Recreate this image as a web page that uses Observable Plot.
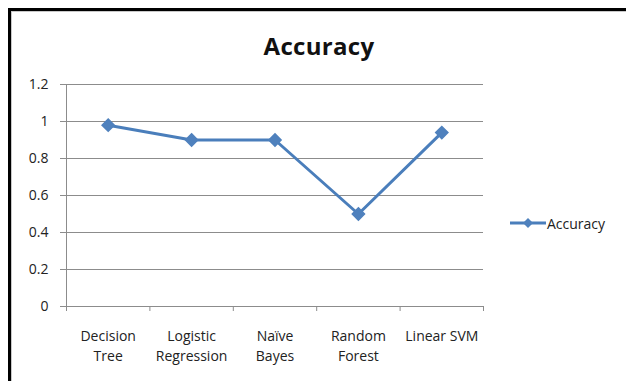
<!DOCTYPE html>
<html>
<head>
<meta charset="utf-8">
<script src="https://cdn.jsdelivr.net/npm/d3@7"></script>
<script src="https://cdn.jsdelivr.net/npm/@observablehq/plot@0.6"></script>
<style>
  html, body { margin: 0; padding: 0; background: #fff; overflow: hidden; }
  #wrap { position: relative; width: 626px; height: 381px; overflow: hidden; font-family: "Open Sans", sans-serif; }
  .bar { position: absolute; }
  #title { position: absolute; left: 0; width: 638px; top: 29px; text-align: center; font-weight: bold; font-size: 24px; color: #111; line-height: 34px; letter-spacing: 0.3px; }
  #legend { position: absolute; left: 510px; top: 213px; display: flex; align-items: center; font-size: 14px; color: #222; }
  #chart { position: absolute; left: 0; top: 0; }
</style>
</head>
<body>
<div id="wrap">
  <div class="bar" style="left:8px;top:8px;width:618px;height:3px;background:#000"></div>
  <div class="bar" style="left:8px;top:8px;width:3px;height:373px;background:#000"></div>
  <div class="bar" style="left:11px;top:11px;width:615px;height:1px;background:#c8c8c8"></div>
  <div class="bar" style="left:11px;top:11px;width:1px;height:370px;background:#c8c8c8"></div>
  <div id="chart"></div>
  <div id="title">Accuracy</div>
  <div id="legend">
    <svg width="36" height="20"><line x1="0" y1="10" x2="36" y2="10" stroke="#4A7EBB" stroke-width="3"/><path d="M18,5 L23,10 L18,15 L13,10 Z" fill="#4F81BD"/></svg>
    <span style="margin-left:1px">Accuracy</span>
  </div>
</div>
<script>
const categories = ["Decision\nTree", "Logistic\nRegression", "Naïve\nBayes", "Random\nForest", "Linear SVM"];
const accuracy = [0.98, 0.90, 0.90, 0.50, 0.94];
const yTicks = [0, 0.2, 0.4, 0.6, 0.8, 1, 1.2];

const data = categories.map((c, i) => ({i, c, v: accuracy[i]}));
const idx = categories.map((c, i) => i);
const bounds = categories.map((c, i) => i - 0.5).concat([categories.length - 0.5]);

const chart = Plot.plot({
  width: 626,
  height: 381,
  marginLeft: 66,
  marginRight: 143,
  marginTop: 84,
  marginBottom: 75,
  style: {background: "transparent", fontFamily: "Open Sans, sans-serif", color: "#222"},
  x: {type: "linear", domain: [-0.5, categories.length - 0.5]},
  y: {domain: [0, 1.2]},
  marks: [
    Plot.ruleY(yTicks.slice(1), {stroke: "#8c8c8c", strokeWidth: 1, strokeOpacity: 1}),
    Plot.ruleY([0], {stroke: "#8c8c8c", strokeWidth: 1}),
    Plot.ruleX([-0.5], {y1: 0, y2: 1.2, stroke: "#8c8c8c", strokeWidth: 1}),
    Plot.axisY({ticks: yTicks, tickFormat: d => String(d), tickSize: 6, tickPadding: 12, stroke: "#8c8c8c", fontSize: 14, label: null}),
    Plot.axisX({ticks: bounds, tickFormat: () => "", tickSize: 5, stroke: "#8c8c8c", label: null}),
    Plot.axisX({ticks: idx, tickFormat: i => categories[i], tickSize: 0, tickPadding: 20, fontSize: 14, lineHeight: 1.45, label: null}),
    Plot.line(data, {x: "i", y: "v", stroke: "#4A7EBB", strokeWidth: 3}),
    Plot.dot(data, {x: "i", y: "v", symbol: "diamond2", r: 5.5, fill: "#4F81BD", stroke: "#4F81BD"})
  ]
});
document.getElementById("chart").appendChild(chart);
</script>
</body>
</html>
